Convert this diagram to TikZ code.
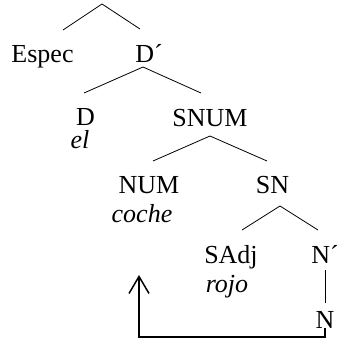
\documentclass[tikz,border=0pt]{standalone}
\usepackage{fontspec}
\setmainfont{Liberation Serif}
\usepackage{tikz}
\usetikzlibrary{arrows.meta}

\begin{document}
\begin{tikzpicture}[x=1pt, y=-1pt,
        cat/.style={anchor=base, inner sep=0pt, font=\fontsize{26}{31}\selectfont},
        word/.style={cat, font=\fontsize{26}{31}\selectfont\itshape},
        branch/.style={line width=0.8pt},
        move/.style={line width=1.5pt, -{Straight Barb[length=17pt, width=20pt]}}]
            \useasboundingbox (0, 0) rectangle (337, 341);
            % categories and words
            \node[cat] (espec) at (42.5, 62) {Espec};
            \node[cat] (dbar) at (149, 62) {D´};
            \node[cat] (d) at (85.5, 125) {D};
            \node[word] (el) at (80, 148) {el};
            \node[cat] (snum) at (210, 126) {SNUM};
            \node[cat] (num) at (149, 193) {NUM};
            \node[word] (coche) at (142, 222) {coche};
            \node[cat] (sn) at (272.5, 193) {SN};
            \node[cat] (sadj) at (231, 263) {SAdj};
            \node[word] (rojo) at (227, 292) {rojo};
            \node[cat] (nbar) at (325, 263) {N´};
            \node[cat] (n) at (325, 328) {N};
            % branches: apex / left end / right end
            \foreach \a/\l/\r[count=\i from 1] in {{102,4}/{63,30}/{140,29},
                {143,67}/{84,93}/{201,93},
                {210,136}/{153,161}/{267,161},
                {280,206}/{242,230}/{318,230}}
            {
                \coordinate (apex\i) at (\a);
                \draw[branch] (\l) -- (apex\i) -- (\r);
            }
            \draw[branch, shorten <=7pt, shorten >=8pt] (nbar.south) -- (n.north);
            % movement of N up to NUM
            \coordinate (trace) at (139, 275);
            \draw[move] (n.south) -- ++(0, 9) -| (trace);
        \end{tikzpicture}
\end{document}
